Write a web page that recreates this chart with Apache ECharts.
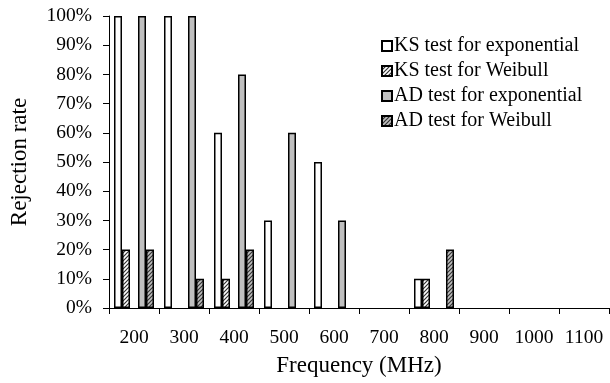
<!DOCTYPE html>
<html>
<head>
<meta charset="utf-8">
<script src="https://cdn.jsdelivr.net/npm/echarts@6/dist/echarts.min.js"></script>
<style>
  html, body { margin: 0; padding: 0; background: #fff; }
  #main { width: 610px; height: 383px; }
</style>
</head>
<body>
<div id="main"></div>
<script>
// frequencies (MHz)
var categories = ['200', '300', '400', '500', '600', '700', '800', '900', '1000', '1100'];
// rejection rates in %
var ksExp = [100, 100, 60, 30, 50, 0, 10, 0, 0, 0];
var ksWeibull = [20, 0, 10, 0, 0, 0, 10, 0, 0, 0];
var adExp = [100, 100, 80, 60, 30, 0, 0, 0, 0, 0];
var adWeibull = [20, 10, 20, 0, 0, 0, 20, 0, 0, 0];
var yTicks = [0, 10, 20, 30, 40, 50, 60, 70, 80, 90, 100];

var FONT = '"Liberation Serif", "Times New Roman", serif';

// diagonal hatch pattern
function hatch(bg, fg) {
  var c = document.createElement('canvas');
  c.width = 4; c.height = 4;
  var ctx = c.getContext('2d');
  ctx.fillStyle = bg;
  ctx.fillRect(0, 0, 4, 4);
  ctx.strokeStyle = fg;
  ctx.lineWidth = 1.2;
  ctx.beginPath();
  ctx.moveTo(-1, 5); ctx.lineTo(5, -1);
  ctx.moveTo(-1, 1); ctx.lineTo(1, -1);
  ctx.moveTo(3, 5); ctx.lineTo(5, 3);
  ctx.stroke();
  return c;
}

// zero bars are not drawn in the original
function noZero(arr) {
  return arr.map(function (v) { return v === 0 ? null : v; });
}

var myChart = echarts.init(document.getElementById('main'));

function bar(name, data, color) {
  return {
    name: name,
    type: 'bar',
    data: noZero(data),
    barGap: '0%',
    barCategoryGap: '20%',
    itemStyle: { color: color, borderColor: '#000', borderWidth: 1.5 },
    emphasis: { disabled: true }
  };
}

myChart.setOption({
  animation: false,
  textStyle: { fontFamily: FONT },
  grid: { left: 106, right: 1, top: 16, bottom: 75, containLabel: false },
  legend: {
    orient: 'vertical',
    left: 376,
    top: 31,
    itemWidth: 10,
    itemHeight: 10,
    itemGap: 5,
    icon: 'rect',
    data: ['KS test for exponential', 'KS test for Weibull', 'AD test for exponential', 'AD test for Weibull'],
    textStyle: { fontFamily: FONT, fontSize: 20, color: '#000', padding: [0, 0, 0, -3] },
    selectedMode: false
  },
  xAxis: {
    type: 'category',
    data: categories,
    name: 'Frequency (MHz)',
    nameLocation: 'middle',
    nameGap: 46,
    nameTextStyle: { fontFamily: FONT, fontSize: 23, color: '#000' },
    axisLine: { lineStyle: { color: '#000', width: 1 } },
    axisTick: { show: true, length: 6, lineStyle: { color: '#000' } },
    axisLabel: { fontFamily: FONT, fontSize: 19.5, color: '#000', margin: 20, interval: 0 }
  },
  yAxis: {
    type: 'value',
    min: yTicks[0],
    max: yTicks[yTicks.length - 1],
    interval: 10,
    name: 'Rejection rate',
    nameLocation: 'middle',
    nameGap: 78,
    nameRotate: 90,
    nameTextStyle: { fontFamily: FONT, fontSize: 23, color: '#000' },
    axisLine: { show: true, lineStyle: { color: '#000', width: 1 } },
    axisTick: { show: true, length: 6, lineStyle: { color: '#000' } },
    splitLine: { show: false },
    axisLabel: { fontFamily: FONT, fontSize: 19.5, color: '#000', margin: 17, formatter: '{value}%' }
  },
  series: [
    bar('KS test for exponential', ksExp, '#ffffff'),
    bar('KS test for Weibull', ksWeibull, { image: hatch('#ffffff', '#333333'), repeat: 'repeat' }),
    bar('', categories.map(function () { return 0; }), 'transparent'),
    bar('AD test for exponential', adExp, '#c0c0c0'),
    bar('AD test for Weibull', adWeibull, { image: hatch('#c0c0c0', '#333333'), repeat: 'repeat' })
  ]
});
</script>
</body>
</html>
